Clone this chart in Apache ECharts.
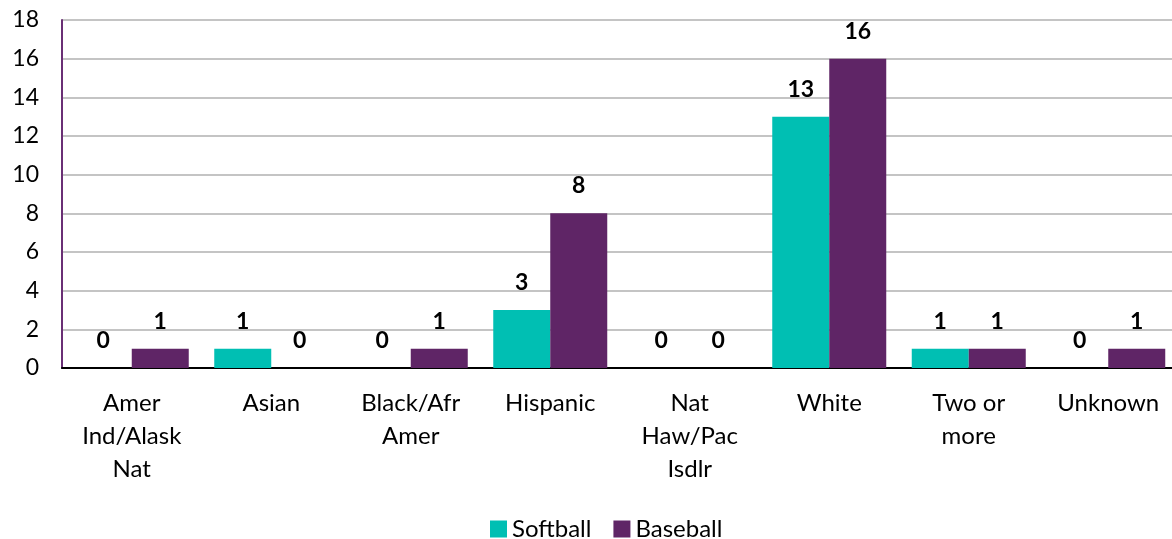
<!DOCTYPE html>
<html><head><meta charset="utf-8">
<script src="https://cdn.jsdelivr.net/npm/echarts@6/dist/echarts.min.js"></script>
<style>html,body{margin:0;padding:0;background:#fff;overflow:hidden}#c{width:1178px;height:539px}</style>
</head><body><div id="c"></div>
<script>
const categories = ['Amer\nInd/Alask\nNat','Asian','Black/Afr\nAmer','Hispanic','Nat\nHaw/Pac\nIsdlr','White','Two or\nmore','Unknown'];
const softball = [0,1,0,3,0,13,1,0];
const baseball = [1,0,1,8,0,16,1,1];
const seriesNames = ['Softball','Baseball'];
const FONT = 'Lato';
const chart = echarts.init(document.getElementById('c'));
const lbl = {show:true, position:'top', distance:16, color:'#000', fontWeight:'bold', fontSize:23, fontFamily:FONT};
chart.setOption({
  animation:false,
  textStyle:{fontFamily:FONT},
  grid:{left:62, right:0, top:20, height:348, containLabel:false},
  legend:{top:512, left:485, itemWidth:17, itemHeight:17, itemGap:22, icon:'rect',
    textStyle:{fontSize:24, color:'#000', fontFamily:FONT}, data:seriesNames},
  xAxis:{type:'category', data:categories,
    axisLine:{lineStyle:{color:'#000', width:2}}, axisTick:{show:false},
    axisLabel:{interval:0, fontSize:24, lineHeight:33, color:'#000', margin:19, fontFamily:FONT}},
  yAxis:{type:'value', min:0, max:18, interval:2,
    axisLine:{show:true, lineStyle:{color:'#6a2f75', width:2}}, axisTick:{show:false},
    splitLine:{lineStyle:{color:'#c4c4c4', width:2}},
    axisLabel:{fontSize:23, color:'#000', margin:23, fontFamily:FONT}},
  series:[
    {name:seriesNames[0], type:'bar', data:softball, barWidth:57, barGap:'0%', itemStyle:{color:'#00BFB3'}, label:lbl},
    {name:seriesNames[1], type:'bar', data:baseball, barWidth:57, barGap:'0%', itemStyle:{color:'#5F2566'}, label:lbl}
  ]
});
</script></body></html>
